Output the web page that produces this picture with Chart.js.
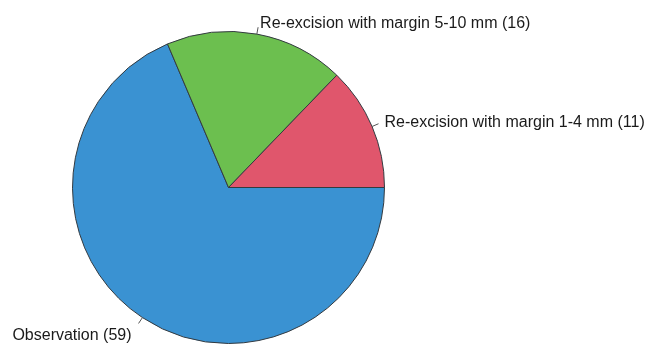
<!DOCTYPE html>
<html>
<head>
<meta charset="utf-8">
<script src="https://cdn.jsdelivr.net/npm/chart.js@4"></script>
<style>
  html, body { margin: 0; padding: 0; background: #fff; }
  #grafico { display: block; }
</style>
</head>
<body>
<canvas id="grafico" width="657" height="344"></canvas>
<script>
// dados (sentido horário a partir das 3 horas)
const categorias = ['Observation', 'Re-excision with margin 5-10 mm', 'Re-excision with margin 1-4 mm'];
const valores = [59, 16, 11];
const cores = ['#3a92d2', '#6cbf4f', '#e0566c'];

// rótulos com traço de ligação fora da pizza
const rotulosExternos = {
    id: 'rotulosExternos',
    afterDatasetsDraw(chart) {
        const ctx = chart.ctx;
        const arcos = chart.getDatasetMeta(0).data;
        ctx.save();
        ctx.font = '16px "Liberation Sans", Arial, sans-serif';
        ctx.fillStyle = '#1a1a1a';
        ctx.strokeStyle = '#555';
        ctx.lineWidth = 1;
        arcos.forEach((arco, i) => {
            const { x, y, startAngle, endAngle, outerRadius } = arco.getProps(['x', 'y', 'startAngle', 'endAngle', 'outerRadius'], true);
            const meio = (startAngle + endAngle) / 2;
            const cos = Math.cos(meio), sin = Math.sin(meio);
            const x1 = x + cos * outerRadius, y1 = y + sin * outerRadius;
            const x2 = x + cos * (outerRadius + 7), y2 = y + sin * (outerRadius + 7);
            ctx.beginPath();
            ctx.moveTo(x1, y1);
            ctx.lineTo(x2, y2);
            ctx.stroke();

            const texto = `${categorias[i]} (${valores[i]})`;
            ctx.textBaseline = 'alphabetic';
            if (sin < -0.6) {          // em cima
                ctx.textAlign = cos >= 0 ? 'left' : 'right';
                ctx.fillText(texto, x2 + (cos >= 0 ? 2 : -2), y2 + 1);
            } else if (sin <= 0.6) {   // lateral
                ctx.textAlign = cos >= 0 ? 'left' : 'right';
                ctx.fillText(texto, x2 + (cos >= 0 ? 6 : -6), y2 + 3);
            } else {                   // embaixo
                ctx.textAlign = cos >= 0 ? 'left' : 'right';
                ctx.fillText(texto, x2 + (cos >= 0 ? 7 : -7), y2 + 17);
            }
        });
        ctx.restore();
    }
};

new Chart(document.getElementById('grafico'), {
    type: 'pie',
    data: {
        labels: categorias,
        datasets: [{
            data: valores,
            backgroundColor: cores,
            borderColor: '#333a40',
            borderWidth: 1,
            hoverOffset: 0,
            offset: 0
        }]
    },
    options: {
        responsive: false,
        animation: false,
        rotation: 90,
        layout: { padding: { left: 72, right: 272, top: 31, bottom: 0 } },
        plugins: {
            legend: { display: false },
            tooltip: { enabled: false }
        }
    },
    plugins: [rotulosExternos]
});
</script>
</body>
</html>
